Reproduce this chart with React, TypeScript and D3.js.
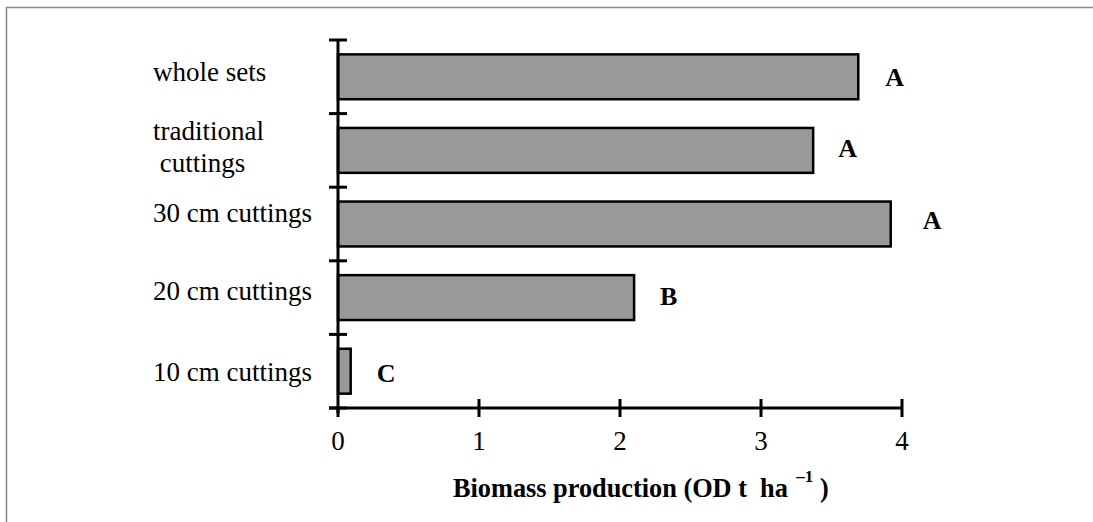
import React from 'react';
import * as d3 from 'd3';

// data
const categories = ['whole sets', 'traditional cuttings', '30 cm cuttings', '20 cm cuttings', '10 cm cuttings'];
const biomass = [3.69, 3.37, 3.92, 2.1, 0.09];
const groups = ['A', 'A', 'A', 'B', 'C'];
const xTicks = [0, 1, 2, 3, 4];

// layout tweaks per row (label baseline offsets, letter gaps)
const labelLines = [['whole sets'], ['traditional', ' cuttings'], ['30 cm cuttings'], ['20 cm cuttings'], ['10 cm cuttings']];
const labelDy = [4, -10, -2, 2, 10];
const letterGap = [27, 25, 32, 26, 26];
const letterDy = [9, 7, 5, 7, 11];

const W = 1093;
const H = 522;
const left = 338;
const right = 902;
const top = 40;
const bottom = 408;
const serif = '"Liberation Serif", "Times New Roman", serif';

export default function App() {
  const x = d3.scaleLinear().domain([0, 4]).range([left, right]);
  const y = d3.scaleBand<string>().domain(categories).range([top, bottom]).paddingInner(0.39).paddingOuter(0.195);
  const step = y.step();
  const bounds = d3.range(categories.length + 1).map(i => top + i * step);

  return (
    <svg width={W} height={H} style={{ position: 'absolute', left: 0, top: 0, background: '#fff' }} fontFamily={serif}>
      {/* frame */}
      <path d={`M6.5,${H}V7.5H${W}`} fill="none" stroke="#888" strokeWidth={1.5} />

      {/* bars */}
      {categories.map((c, i) => (
        <rect key={c} x={x(0)} y={y(c)} width={x(biomass[i]) - x(0)} height={y.bandwidth()}
          fill="#999999" stroke="#000" strokeWidth={2.5} />
      ))}

      {/* y axis */}
      <line x1={left} x2={left} y1={top} y2={bottom + 5} stroke="#000" strokeWidth={3} />
      {bounds.map(b => (
        <line key={b} x1={left - 9} x2={left + 9} y1={b} y2={b} stroke="#000" strokeWidth={3} />
      ))}

      {/* x axis */}
      <line x1={left - 9} x2={right} y1={bottom} y2={bottom} stroke="#000" strokeWidth={3} />
      {xTicks.map(t => (
        <g key={t} transform={`translate(${x(t)},${bottom})`}>
          <line y1={t === 0 ? 0 : -9} y2={9} stroke="#000" strokeWidth={3} />
          <text y={42} textAnchor="middle" fontSize={27}>{t}</text>
        </g>
      ))}

      {/* category labels */}
      {categories.map((c, i) => {
        const cy = (y(c) as number) + y.bandwidth() / 2;
        return (
          <text key={c} x={153} y={cy + labelDy[i]} fontSize={27} style={{ whiteSpace: 'pre' }}>
            {labelLines[i].map((l, j) => (
              <tspan key={j} x={153} dy={j === 0 ? 0 : 32}>{l}</tspan>
            ))}
          </text>
        );
      })}

      {/* significance letters */}
      {categories.map((c, i) => {
        const cy = (y(c) as number) + y.bandwidth() / 2;
        return (
          <text key={c} x={x(biomass[i]) + letterGap[i]} y={cy + letterDy[i]} fontSize={26} fontWeight="bold">
            {groups[i]}
          </text>
        );
      })}

      {/* axis title */}
      <text x={453} y={497} fontSize={26.3} fontWeight="bold" style={{ whiteSpace: 'pre' }}>
        Biomass production (OD t  ha
        <tspan fontSize={17} dy={-15}>  –1</tspan>
        <tspan dy={15}> )</tspan>
      </text>
    </svg>
  );
}
